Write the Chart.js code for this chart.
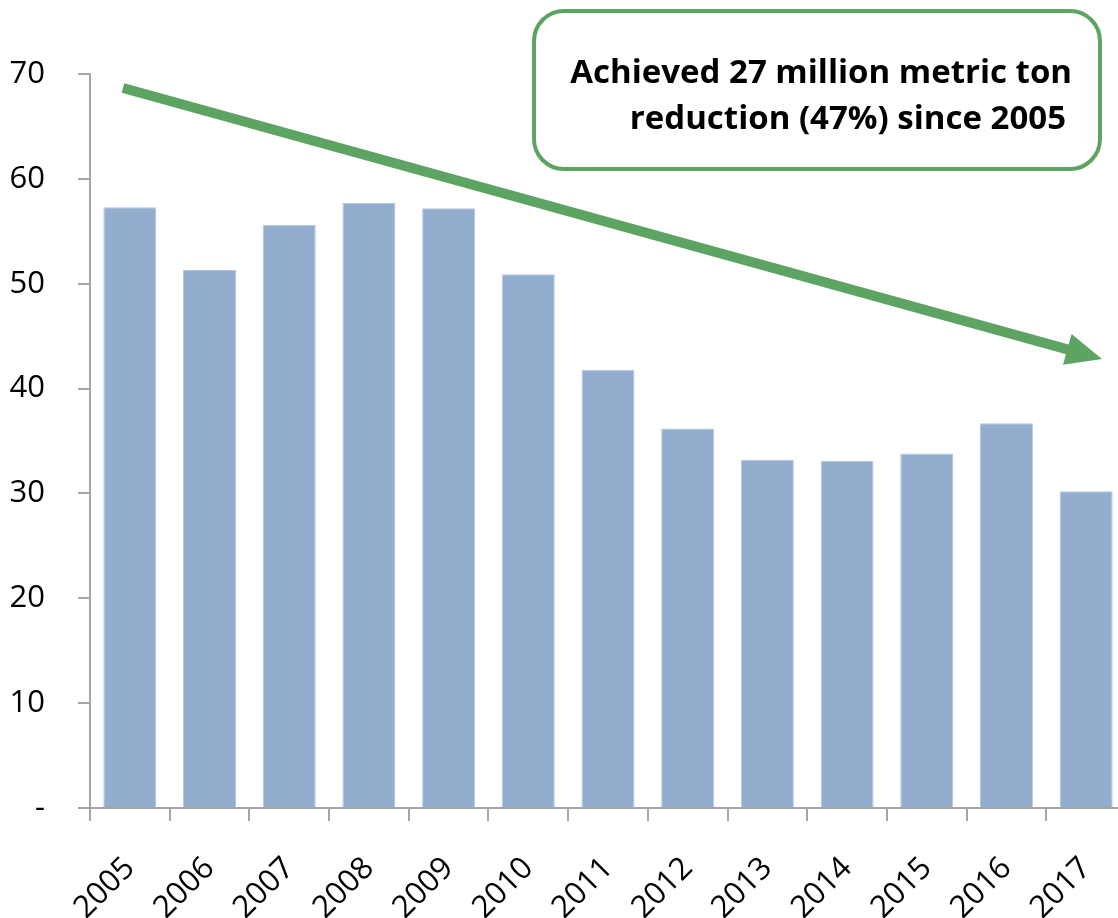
<!DOCTYPE html>
<html>
<head>
<meta charset="utf-8">
<script src="https://cdn.jsdelivr.net/npm/chart.js@4/dist/chart.umd.min.js"></script>
<style>
    html, body { margin: 0; padding: 0; overflow: hidden; background: #fff; }
    #wrap { width: 1130px; height: 918px; }
</style>
</head>
<body>
<div id="wrap"><canvas id="chart"></canvas></div>
<script>
// chart data
const years = ['2005', '2006', '2007', '2008', '2009', '2010', '2011', '2012', '2013', '2014', '2015', '2016', '2017'];
const emissions = [57.3, 51.3, 55.6, 57.7, 57.2, 50.9, 41.8, 36.2, 33.2, 33.1, 33.8, 36.7, 30.2];
const yTicks = [0, 10, 20, 30, 40, 50, 60, 70];
const noteLines = ['Achieved 27 million metric ton', 'reduction (47%) since 2005'];

const GREEN = '#5da463';
const AXIS = '#a6a6a6';
const FONT = '"Open Sans", "Liberation Sans", sans-serif';

// trend arrow + callout box, drawn on top of the chart
const annotationPlugin = {
    id: 'annotations',
    afterDraw(chart) {
        const ctx = chart.ctx;
        ctx.save();

        // arrow
        const x1 = 123, y1 = 88, x2 = 1102, y2 = 359;
        const ang = Math.atan2(y2 - y1, x2 - x1);
        const headLen = 36, headHalf = 16;
        const bx = x2 - headLen * Math.cos(ang);
        const by = y2 - headLen * Math.sin(ang);
        ctx.strokeStyle = GREEN;
        ctx.lineWidth = 10;
        ctx.beginPath();
        ctx.moveTo(x1, y1);
        ctx.lineTo(bx + 2 * Math.cos(ang), by + 2 * Math.sin(ang));
        ctx.stroke();
        ctx.fillStyle = GREEN;
        ctx.beginPath();
        ctx.moveTo(x2, y2);
        ctx.lineTo(bx - headHalf * Math.sin(ang), by + headHalf * Math.cos(ang));
        ctx.lineTo(bx + headHalf * Math.sin(ang), by - headHalf * Math.cos(ang));
        ctx.closePath();
        ctx.fill();

        // callout box
        const bxl = 534, byt = 11, bw = 566, bh = 158, r = 30;
        ctx.fillStyle = '#fff';
        ctx.strokeStyle = GREEN;
        ctx.lineWidth = 4;
        ctx.beginPath();
        ctx.roundRect(bxl, byt, bw, bh, r);
        ctx.fill();
        ctx.stroke();

        ctx.fillStyle = '#000';
        ctx.font = 'bold 33px ' + FONT;
        ctx.textAlign = 'right';
        ctx.textBaseline = 'alphabetic';
        ctx.fillText(noteLines[0], 1072, 83);
        ctx.fillText(noteLines[1], 1066, 129);
        ctx.restore();
    }
};

new Chart(document.getElementById('chart'), {
    type: 'bar',
    data: {
        labels: years,
        datasets: [{
            data: emissions,
            backgroundColor: '#93adcf',
            borderColor: '#b4c7e0',
            borderWidth: 1,
            categoryPercentage: 1,
            barPercentage: 0.665
        }]
    },
    options: {
        responsive: true,
        maintainAspectRatio: false,
        animation: false,
        layout: { padding: { top: 74, right: 4, left: 0, bottom: 0 } },
        plugins: {
            legend: { display: false },
            tooltip: { enabled: false }
        },
        scales: {
            x: {
                grid: {
                    offset: true,
                    drawOnChartArea: false,
                    drawTicks: true,
                    tickLength: 13,
                    color: AXIS,
                    lineWidth: 2
                },
                border: { color: AXIS, width: 2 },
                ticks: {
                    color: '#000',
                    font: { family: FONT, size: 31 },
                    minRotation: 45,
                    maxRotation: 45,
                    padding: 29
                },
                afterFit(scale) {
                    scale.height = 110;
                    scale.paddingLeft = 0;
                    scale.paddingRight = 0;
                }
            },
            y: {
                min: 0,
                max: 70,
                afterBuildTicks(scale) { scale.ticks = yTicks.map(v => ({ value: v })); },
                grid: {
                    drawOnChartArea: false,
                    drawTicks: true,
                    tickLength: 12,
                    color: AXIS,
                    lineWidth: 2
                },
                border: { color: AXIS, width: 2 },
                ticks: {
                    color: '#000',
                    font: { family: FONT, size: 31 },
                    padding: 33,
                    callback: v => (v === 0 ? '-' : v)
                },
                afterFit(scale) { scale.width = 90; }
            }
        }
    },
    plugins: [annotationPlugin]
});
</script>
</body>
</html>
